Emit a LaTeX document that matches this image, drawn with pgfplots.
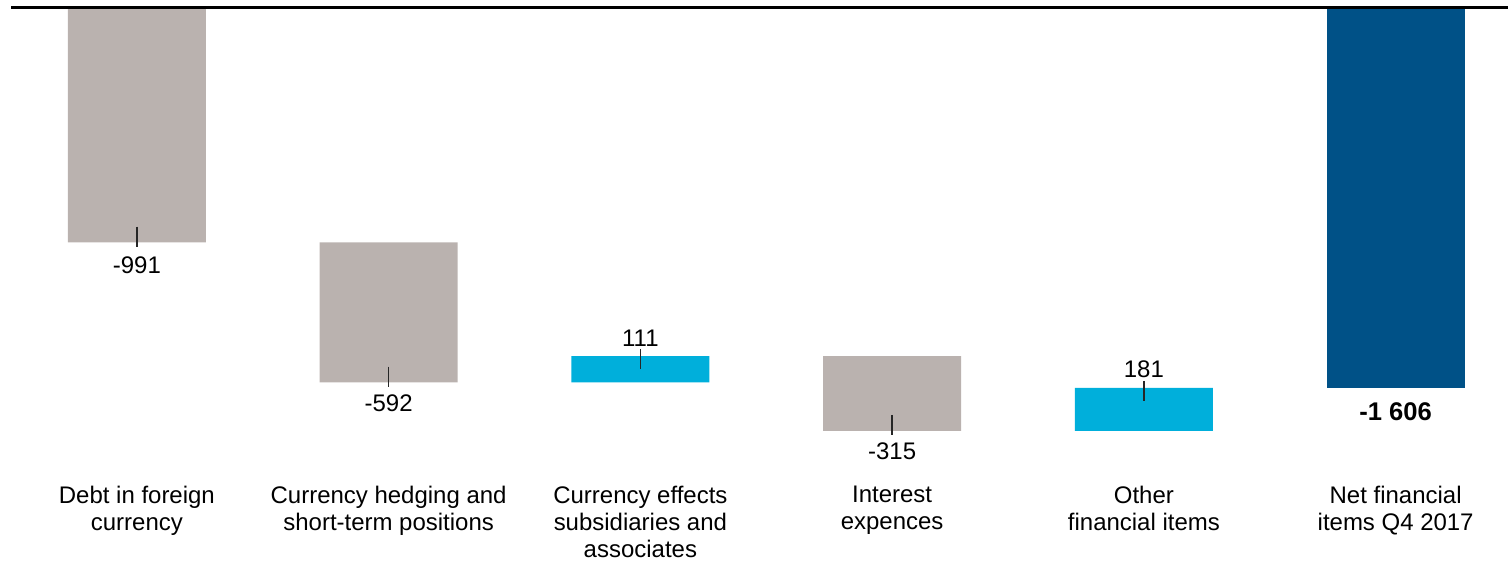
\documentclass[border=0pt]{standalone}
\usepackage{pgfplots}
\pgfplotsset{compat=1.18}
\usepackage{fontspec}
\setmainfont{Liberation Sans}
\definecolor{cgrey}{RGB}{186,178,175}
\definecolor{ccyan}{RGB}{0,175,219}
\definecolor{cnavy}{RGB}{0,81,135}
\pgfplotsset{base/.style={width=754.5pt,height=282.5pt,scale only axis,
  xmin=-0.5437,xmax=5.4444,ymin=-2352,ymax=33.8,hide axis,clip=false}}
\begin{document}
\begin{tikzpicture}[font=\fontsize{12}{13.5}\selectfont]
\begin{axis}[base, ybar stacked, bar width=69pt]
% invisible base (upper end of each floating bar)
\addplot[draw=none,fill=none] coordinates {(0,0)(1,-991)(2,-1472)(3,-1472)(4,-1606)(5,0)};
% visible part (negative heights: bar spans base down to base+height)
\addplot[draw=none,fill=cgrey] coordinates {(0,-991)(1,-592)(2,0)(3,-315)(4,0)(5,0)};
\addplot[draw=none,fill=ccyan] coordinates {(0,0)(1,0)(2,-111)(3,0)(4,-181)(5,0)};
\addplot[draw=none,fill=cnavy] coordinates {(0,0)(1,0)(2,0)(3,0)(4,0)(5,-1606)};
\end{axis}
\begin{axis}[base]
\path (rel axis cs:0,0) rectangle (rel axis cs:1,1);
\addplot[black,line width=1.5pt] coordinates {(-0.5,0)(5.4444,0)};
\addplot[only marks, mark=|, mark size=5pt, mark options={line width=0.75pt, draw=black!85}] coordinates {(0,-966)(1,-1558)(2,-1484)(3,-1762)(4,-1618)};
\node at (axis cs:0,-1089) {-991};
\node at (axis cs:1,-1672) {-592};
\node at (axis cs:2,-1398) {111};
\node at (axis cs:3,-1875) {-315};
\node at (axis cs:4,-1529) {181};
\node[font=\fontsize{12.8}{14}\selectfont\bfseries] at (axis cs:5,-1706) {-1 606};
\node[anchor=north,align=center,inner sep=0pt] at (axis cs:0,-2019) {Debt in foreign\\currency};
\node[anchor=north,align=center,inner sep=0pt] at (axis cs:1,-2019) {Currency hedging and\\short-term positions};
\node[anchor=north,align=center,inner sep=0pt] at (axis cs:2,-2019) {Currency effects\\subsidiaries and\\associates};
\node[anchor=north,align=center,inner sep=0pt] at (axis cs:3,-2019) {Interest\\expences};
\node[anchor=north,align=center,inner sep=0pt] at (axis cs:4,-2019) {Other\\financial items};
\node[anchor=north,align=center,inner sep=0pt] at (axis cs:5,-2019) {Net financial\\items Q4 2017};
\end{axis}
\end{tikzpicture}
\end{document}
